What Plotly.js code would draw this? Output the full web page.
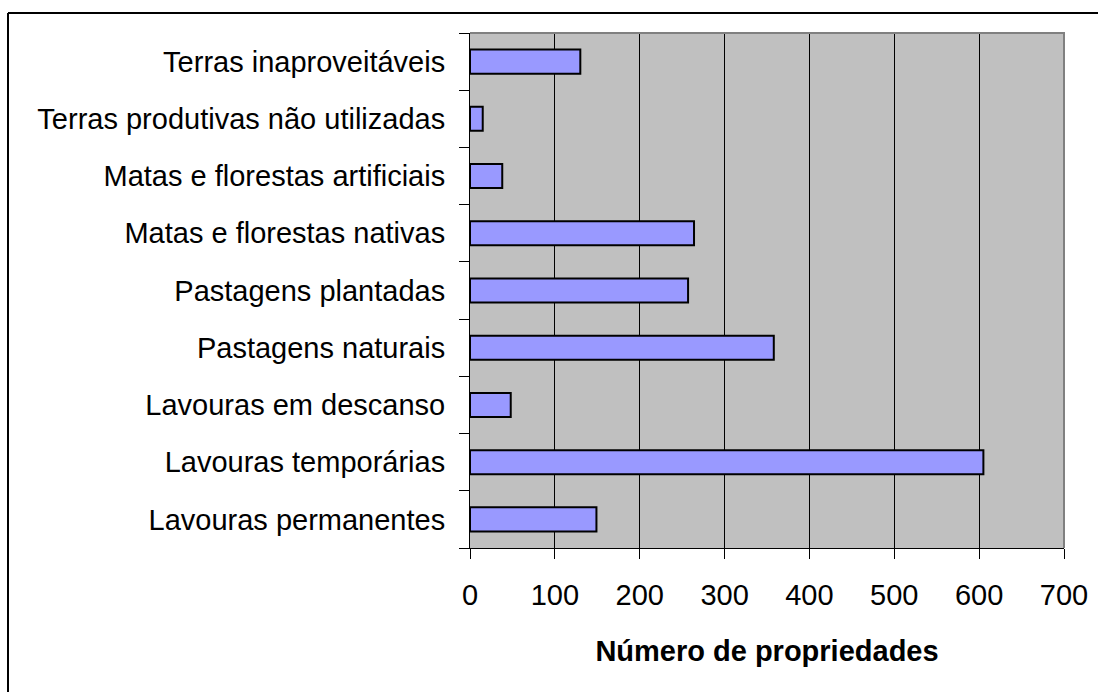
<!DOCTYPE html>
<html>
<head>
<meta charset="utf-8">
<script src="https://cdn.plot.ly/plotly-3.0.1.min.js"></script>
<style>
html,body{margin:0;padding:0;background:#fff;}
#chart{width:1098px;height:692px;}
</style>
</head>
<body>
<div id="chart"></div>
<script>
const categories = [
  "Lavouras permanentes",
  "Lavouras temporárias",
  "Lavouras em descanso",
  "Pastagens naturais",
  "Pastagens plantadas",
  "Matas e florestas nativas",
  "Matas e florestas artificiais",
  "Terras produtivas não utilizadas",
  "Terras inaproveitáveis"
];
const values = [149, 605, 48, 358, 257, 264, 38, 15, 130];
const xTicks = [0, 100, 200, 300, 400, 500, 600, 700];
const xTitle = "Número de propriedades";

const font = "Liberation Sans, Arial, sans-serif";

const trace = {
  type: "bar",
  orientation: "h",
  x: values,
  y: categories,
  marker: {color: "#9999ff", line: {color: "#000000", width: 2}},
  hoverinfo: "x+y"
};

const layout = {
  width: 1098,
  height: 692,
  margin: {l: 470, r: 34, t: 33, b: 144, pad: 0},
  paper_bgcolor: "#ffffff",
  plot_bgcolor: "#c0c0c0",
  bargap: 0.58,
  showlegend: false,
  font: {family: font, size: 29, color: "#000"},
  xaxis: {
    range: [0, 700],
    tickvals: xTicks,
    ticktext: xTicks.map(String),
    ticks: "outside",
    ticklen: 10,
    tickwidth: 1,
    tickcolor: "#000",
    showgrid: true,
    gridcolor: "#000",
    gridwidth: 1,
    zeroline: false,
    showline: true,
    linecolor: "#000",
    linewidth: 1,
    tickfont: {family: font, size: 29, color: "#000"},
    ticklabelstandoff: 11,
    title: {text: "<b>" + xTitle + "</b>", font: {family: font, size: 29, color: "#000"}, standoff: 30},
    fixedrange: true
  },
  yaxis: {
    type: "category",
    categoryorder: "array",
    categoryarray: categories,
    tickson: "boundaries",
    ticks: "outside",
    ticklen: 10,
    tickwidth: 1,
    tickcolor: "#000",
    showgrid: false,
    zeroline: false,
    showline: true,
    linecolor: "#000",
    linewidth: 1,
    tickfont: {family: font, size: 29, color: "#000"},
    ticklabelstandoff: 18,
    fixedrange: true
  },
  shapes: [
    {type: "path", xref: "paper", yref: "paper", path: "M0,1 L1,1 L1,0", line: {color: "#808080", width: 2}, layer: "above"},
    {type: "line", xref: "paper", yref: "paper", x0: (8 - 470) / 594, x1: (1110 - 470) / 594, y0: (548 - 13) / 515, y1: (548 - 13) / 515, line: {color: "#000", width: 2}, layer: "above"},
    {type: "line", xref: "paper", yref: "paper", x0: (8 - 470) / 594, x1: (8 - 470) / 594, y0: (548 - 13) / 515, y1: (548 - 710) / 515, line: {color: "#000", width: 2}, layer: "above"}
  ]
};

Plotly.newPlot("chart", [trace], layout, {displayModeBar: false, staticPlot: true});
</script>
</body>
</html>
